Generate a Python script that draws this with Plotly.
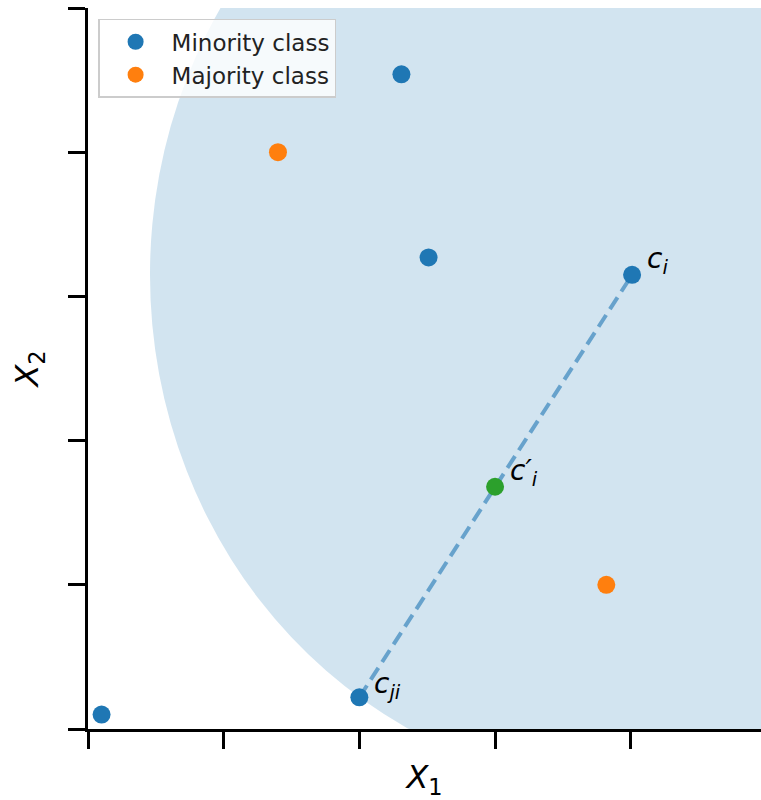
import plotly.graph_objects as go
import math

minority_x = [0.10, 2.00, 2.51, 2.31, 4.01]
minority_y = [0.10, 0.22, 3.27, 4.54, 3.15]
majority_x = [1.40, 3.82]
majority_y = [4.00, 1.00]
synthetic_x = [3.00]
synthetic_y = [1.68]
ci = (4.01, 3.15)
cji = (2.00, 0.22)
x_ticks = [0, 1, 2, 3, 4]
y_ticks = [0, 1, 2, 3, 4, 5]

BLUE = "#1f77b4"
ORANGE = "#ff7f0e"
GREEN = "#2ca02c"
FONT = "DejaVu Sans"

r = math.hypot(ci[0] - cji[0], ci[1] - cji[1])

fig = go.Figure()
fig.add_shape(type="circle", xref="x", yref="y",
              x0=ci[0] - r, x1=ci[0] + r, y0=ci[1] - r, y1=ci[1] + r,
              fillcolor="rgba(31,119,180,0.2)", line=dict(width=0), layer="below")

fig.add_trace(go.Scatter(x=[cji[0], ci[0]], y=[cji[1], ci[1]], mode="lines",
                         line=dict(color="rgba(31,119,180,0.6)", width=4, dash="14px,7px"),
                         showlegend=False, hoverinfo="skip"))
fig.add_trace(go.Scatter(x=minority_x, y=minority_y, mode="markers", name="Minority class",
                         marker=dict(color=BLUE, size=18, line=dict(width=0))))
fig.add_trace(go.Scatter(x=majority_x, y=majority_y, mode="markers", name="Majority class",
                         marker=dict(color=ORANGE, size=18, line=dict(width=0))))
fig.add_trace(go.Scatter(x=synthetic_x, y=synthetic_y, mode="markers", showlegend=False,
                         marker=dict(color=GREEN, size=18, line=dict(width=0))))

labels = [
    (ci[0], ci[1], "<i>c</i><sub><i>i</i></sub>", 13, 14),
    (synthetic_x[0], synthetic_y[0], "<i>c′</i><sub><i>i</i></sub>", 13, 14),
    (cji[0], cji[1], "<i>c</i><sub><i>ji</i></sub>", 13, 12),
]
for x, y, t, xs, ys in labels:
    fig.add_annotation(x=x, y=y, text=t, showarrow=False, xanchor="left", yanchor="middle",
                       xshift=xs, yshift=ys, font=dict(family=FONT, size=28, color="black"))

axis_common = dict(showgrid=False, zeroline=False, showline=True, linecolor="black",
                   linewidth=3, ticks="outside", ticklen=17, tickwidth=3, tickcolor="black",
                   showticklabels=False)
fig.update_xaxes(range=[0, 4.96], tickvals=x_ticks, **axis_common,
                 title=dict(text="<i>X</i><sub>1</sub>", font=dict(family=FONT, size=32, color="black"),
                            standoff=18))
fig.update_yaxes(range=[0, 5], tickvals=y_ticks, **axis_common,
                 title=dict(text="<i>X</i><sub>2</sub>", font=dict(family=FONT, size=32, color="black"),
                            standoff=20))

fig.update_layout(
    width=761, height=800,
    margin=dict(l=88, r=0, t=8, b=71),
    plot_bgcolor="white", paper_bgcolor="white",
    font=dict(family=FONT, size=23, color="black"),
    legend=dict(x=0.015, y=0.985, xanchor="left", yanchor="top",
                bgcolor="rgba(255,255,255,0.8)", bordercolor="#cccccc", borderwidth=1.5,
                font=dict(family=FONT, size=23, color="#222222"), itemsizing="trace",
                itemwidth=62, tracegroupgap=4),
)

fig.write_html("out.html")
